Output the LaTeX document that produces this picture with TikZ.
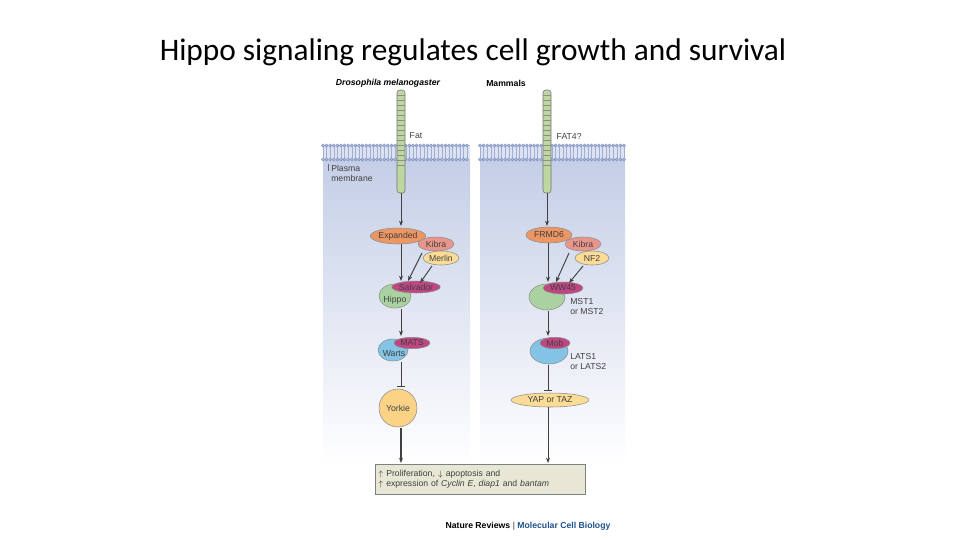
\documentclass[tikz,border=0pt]{standalone}
\usepackage{fontspec}
\setmainfont{Liberation Sans}
\newfontfamily\titlefont{Carlito}
\usetikzlibrary{shapes.geometric,arrows.meta}
\definecolor{panelblue}{RGB}{196,206,230}
\definecolor{memb}{RGB}{120,140,190}
\definecolor{rec}{RGB}{190,215,160}
\definecolor{orng}{RGB}{236,150,100}
\definecolor{salm}{RGB}{232,150,140}
\definecolor{ylw}{RGB}{250,220,150}
\definecolor{grn}{RGB}{170,210,160}
\definecolor{mag}{RGB}{190,70,130}
\definecolor{blu}{RGB}{130,195,230}
\definecolor{boxc}{RGB}{232,230,212}
\definecolor{footblue}{RGB}{30,80,140}
\begin{document}
\begin{tikzpicture}[x=0.75pt,y=-0.75pt,
  lbl/.style={font=\fontsize{6.5}{7.5}\selectfont,text=black!75},
  prot/.style={ellipse,draw=black!45,line width=0.4pt,inner sep=0pt,font=\fontsize{6.5}{7.5}\selectfont,text=black!75},
  arr/.style={-{Stealth[length=4pt,width=3pt]},draw=black!75,line width=0.7pt},
  inh/.style={-{Bar[width=6pt]},draw=black!75,line width=0.7pt}]
\useasboundingbox (0,0) rectangle (960,540);
\node[font=\titlefont\fontsize{23.5}{26}\selectfont] (title) at (473,52) {Hippo signaling regulates cell growth and survival};
% panels
\shade[top color=panelblue,bottom color=white] (323,160) rectangle (470,465);
\shade[top color=panelblue,bottom color=white] (480,160) rectangle (625,465);
% membranes
\foreach \xa/\xb in {323/470,480/625}{
  \fill[panelblue!60] (\xa,145) rectangle (\xb,160);
  \pgfmathsetmacro{\xc}{\xa+3.6}
  \foreach \x in {\xa,\xc,...,\xb}{
    \draw[memb!70,line width=0.3pt] (\x,147) -- (\x,158);
    \draw[memb,fill=memb!60,line width=0.3pt] (\x,145.5) circle (1.6);
    \draw[memb,fill=memb!60,line width=0.3pt] (\x,159.5) circle (1.6);
  }
}
% receptors
\foreach \xr in {401,547}{
  \draw[black!55,fill=rec,line width=0.4pt,rounded corners=2] (\xr-4,90) rectangle (\xr+4,193);
  \foreach \y in {95,100,...,165} \draw[black!45,line width=0.3pt] (\xr-4,\y) -- (\xr+4,\y);
}
\coordinate (fatL) at (401,193);
\coordinate (fatR) at (547,193);
\node[font=\bfseries\itshape\fontsize{6.5}{8}\selectfont] (dros) at (388,83) {Drosophila melanogaster};
\node[font=\bfseries\fontsize{6.5}{8}\selectfont] (mam) at (506,83) {Mammals};
\node[lbl,anchor=west] (fat) at (405,136) {Fat};
\node[lbl,anchor=west] (fat4) at (552,136) {FAT4?};
\draw[black!60,line width=0.4pt] (328,164) -- (328,171);
\node[lbl,anchor=north west,align=left,inner sep=0pt] (pm) at (331,165) {Plasma\\membrane};
% left column
\node[prot,fill=orng,minimum width=37.5,minimum height=12] (exp) at (398,236) {Expanded};
\node[prot,fill=salm,minimum width=27,minimum height=10.5] (kibL) at (436,244) {Kibra};
\node[prot,fill=ylw,minimum width=27,minimum height=10.5] (merlin) at (441,258) {Merlin};
\node[prot,fill=grn,minimum width=24,minimum height=18] (hippo) at (395,296) {};
\node[lbl] (hippot) at (395,300) {Hippo};
\node[prot,fill=mag,minimum width=36,minimum height=9] (salv) at (416,287) {Salvador};
\node[prot,fill=blu,minimum width=22.5,minimum height=16.5] (warts) at (393,350) {};
\node[lbl] (wartst) at (394,354) {Warts};
\node[prot,fill=mag,minimum width=27,minimum height=8.5] (mats) at (412,343) {MATS};
\node[prot,fill=ylw!90!orange,minimum width=28.5,minimum height=28.5] (yorkie) at (398,408) {Yorkie};
\draw[arr] (fatL) -- (401,226);
\draw[arr] (401,244) -- (401,281);
\draw[arr] (kibL) ++(-14,9) -- (408,281);
\draw[arr] (merlin) ++(-9,8) -- (420,283);
\draw[arr] (401,309) -- (401,336);
\draw[inh] (401,362) -- (401,387);
\draw[arr,line width=1.3pt] (yorkie.south) ++(3,1) -- (401,463);
% right column
\node[prot,fill=orng,minimum width=34.5,minimum height=12] (frmd) at (549,235) {FRMD6};
\node[prot,fill=salm,minimum width=27,minimum height=10.5] (kibR) at (583,244) {Kibra};
\node[prot,fill=ylw,minimum width=25.5,minimum height=10.5] (nf2) at (592,258) {NF2};
\node[prot,fill=grn,minimum width=27,minimum height=19.5] (mst) at (547,297) {};
\node[prot,fill=mag,minimum width=30,minimum height=9] (ww45) at (563,288) {WW45};
\node[lbl,anchor=west,align=left,inner sep=0pt] (mstl) at (570,307) {MST1\\or MST2};
\node[prot,fill=blu,minimum width=28.5,minimum height=19.5] (lats) at (549,351) {};
\node[prot,fill=mag,minimum width=22.5,minimum height=8.5] (mob) at (555,343) {Mob};
\node[lbl,anchor=west,align=left,inner sep=0pt] (latsl) at (570,362) {LATS1\\or LATS2};
\node[prot,fill=ylw,minimum width=58.5,minimum height=10.5] (yap) at (550,400) {YAP or TAZ};
\draw[arr] (fatR) -- (547,226);
\draw[arr] (548,243) -- (548,282);
\draw[arr] (kibR) ++(-14,9) -- (556,282);
\draw[arr] (nf2) ++(-9,8) -- (569,283);
\draw[arr] (548,311) -- (548,336);
\draw[inh] (548,365) -- (548,391);
\draw[arr] (yap.south) ++(-2,0) -- (548,463);
% output box
\node[draw=black!50,fill=boxc,line width=0.4pt,minimum width=157.5,minimum height=22.5,align=left,anchor=north west,font=\fontsize{6.5}{8}\selectfont,text=black!75,inner sep=2pt,text width=153] (out) at (375,464)
  {$\uparrow$ Proliferation, $\downarrow$ apoptosis and\\ $\uparrow$ expression of \textit{Cyclin E}, \textit{diap1} and \textit{bantam}};
\node[font=\bfseries\fontsize{6.5}{8}\selectfont] (foot) at (528,526) {Nature Reviews \textcolor{black!50}{|} \textcolor{footblue}{Molecular Cell Biology}};
\end{tikzpicture}
\end{document}
